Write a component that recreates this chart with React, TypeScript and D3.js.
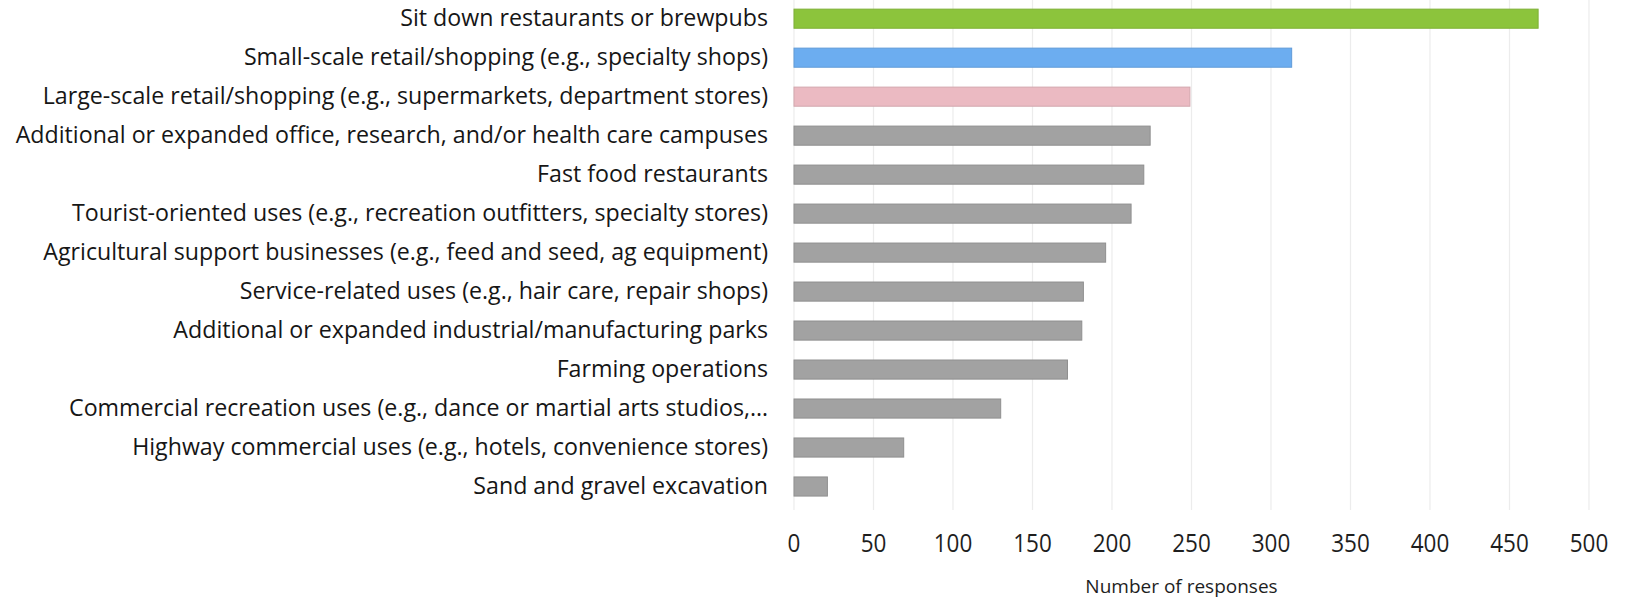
import React from "react";
import * as d3 from "d3";

const categories = [
  "Sit down restaurants or brewpubs",
  "Small-scale retail/shopping (e.g., specialty shops)",
  "Large-scale retail/shopping (e.g., supermarkets, department stores)",
  "Additional or expanded office, research, and/or health care campuses",
  "Fast food restaurants",
  "Tourist-oriented uses (e.g., recreation outfitters, specialty stores)",
  "Agricultural support businesses (e.g., feed and seed, ag equipment)",
  "Service-related uses (e.g., hair care, repair shops)",
  "Additional or expanded industrial/manufacturing parks",
  "Farming operations",
  "Commercial recreation uses (e.g., dance or martial arts studios,…",
  "Highway commercial uses (e.g., hotels, convenience stores)",
  "Sand and gravel excavation",
];
const values = [468, 313, 249, 224, 220, 212, 196, 182, 181, 172, 130, 69, 21];
const barColors = ["#8cc43c", "#6cadf0", "#ebbac2"];
const otherColor = "#a2a2a2";
const xTicks = [0, 50, 100, 150, 200, 250, 300, 350, 400, 450, 500];
const xTitle = "Number of responses";

export default function App() {
  const W = 1632, H = 599;
  const x = d3.scaleLinear().domain([0, 500]).range([794, 1589]);
  const y = d3.scaleBand<string>().domain(categories).range([-0.8, 506]).paddingInner(0.51).paddingOuter(0.255);
  const font = "'Open Sans', sans-serif";
  return (
    <svg width={W} height={H} style={{ position: "absolute", left: 0, top: 0, background: "#fff" }}>
      {xTicks.map((t) => (
        <line key={"g" + t} x1={x(t)} x2={x(t)} y1={0} y2={510} stroke="#ececec" strokeWidth={1.2} />
      ))}
      {categories.map((c, i) => (
        <rect
          key={c}
          x={x(0)}
          y={y(c)}
          width={x(values[i]) - x(0)}
          height={y.bandwidth()}
          fill={i < 3 ? barColors[i] : otherColor}
          stroke={i < 3 ? d3.color(barColors[i])!.darker(0.3).toString() : "#8f8f8f"}
          strokeWidth={1}
        />
      ))}
      {categories.map((c) => (
        <text
          key={"l" + c}
          x={768}
          y={(y(c) ?? 0) + y.bandwidth() / 2 + 7.5}
          textAnchor="end"
          fontFamily={font}
          fontSize={23.2}
          fill="#161616"
        >
          {c}
        </text>
      ))}
      {xTicks.map((t) => (
        <g key={"t" + t} transform={`translate(${x(t)},551.5) scale(1,1.15)`}>
          <text x={0} y={0} textAnchor="middle" fontFamily={font} fontSize={22.5} fill="#1e1e1e">
            {t}
          </text>
        </g>
      ))}
      <text x={(x(0) + x(500)) / 2 - 10} y={586} textAnchor="middle" dominantBaseline="central" fontFamily={font} fontSize={19} fill="#1e1e1e">
        {xTitle}
      </text>
    </svg>
  );
}
